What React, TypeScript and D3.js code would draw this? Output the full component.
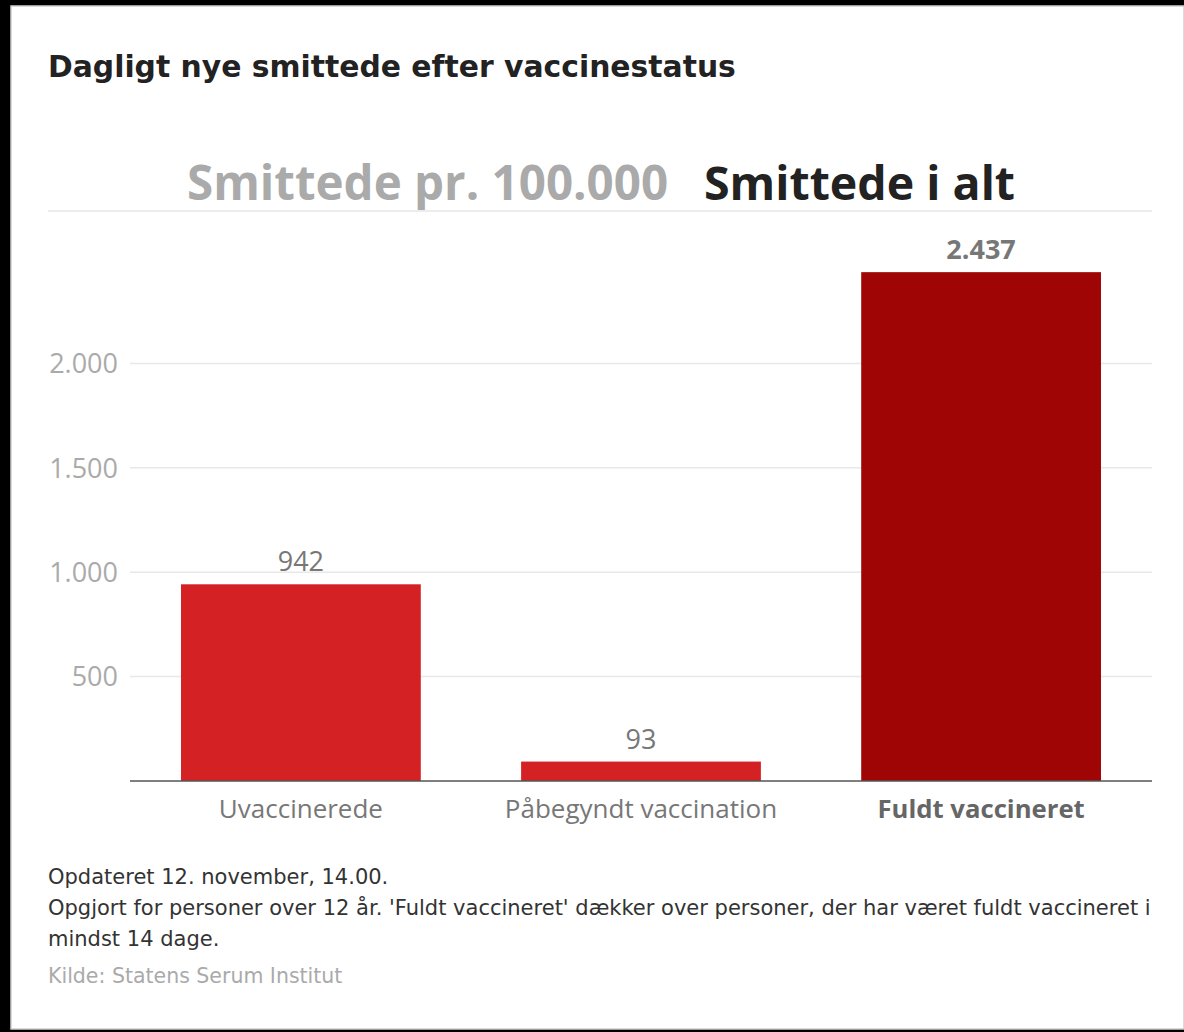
import React from 'react';
import * as d3 from 'd3';

const categories = ['Uvaccinerede', 'Påbegyndt vaccination', 'Fuldt vaccineret'];
const values = [942, 93, 2437];
const highlighted = ['Fuldt vaccineret'];
const yTicks = [500, 1000, 1500, 2000];
const toggleLabels = ['Smittede pr. 100.000', 'Smittede i alt'];
const footerLines = [
  'Opdateret 12. november, 14.00.',
  "Opgjort for personer over 12 år. 'Fuldt vaccineret' dækker over personer, der har været fuldt vaccineret i",
  'mindst 14 dage.',
];
const source = 'Kilde: Statens Serum Institut';

const W = 1184;
const H = 1032;
const font = '"Open Sans", "Noto Sans", sans-serif';
const wide = '"DejaVu Sans", Verdana, sans-serif';

const da = d3.formatLocale({ decimal: ',', thousands: '.', grouping: [3], currency: ['', ' kr.'] });
const fmt = da.format(',d');

export default function App() {
  const plot = { left: 130, right: 1152, top: 212, bottom: 781 };

  const x = d3.scaleBand<string>()
    .domain(categories)
    .range([plot.left, plot.right])
    .paddingInner(0.295)
    .paddingOuter(0.15);

  const y = d3.scaleLinear()
    .domain([0, 2500])
    .range([plot.bottom, plot.bottom - 2500 * 0.2088]);

  return (
    <svg width={W} height={H} style={{ position: 'absolute', left: 0, top: 0, display: 'block' }}>
      <rect x={0} y={0} width={W} height={H} fill="#000" />
      <rect x={11} y={6} width={W - 11} height={1023} fill="#fff" stroke="#cfcfcf" strokeWidth={1.5} />

      <text x={48} y={77} fontFamily={wide} fontWeight={700} fontSize={29.8} fill="#222">
        Dagligt nye smittede efter vaccinestatus
      </text>

      {/* toggle */}
      <text x={187} y={200} fontFamily={font} fontWeight={700} fontSize={47.5} fill="#aaaaaa">
        {toggleLabels[0]}
      </text>
      <text x={704} y={200} fontFamily={font} fontWeight={700} fontSize={46.5} fill="#222">
        {toggleLabels[1]}
      </text>
      <line x1={48} x2={plot.right} y1={211} y2={211} stroke="#ececec" strokeWidth={2} />

      {/* grid + y labels */}
      {yTicks.map(t => (
        <g key={t}>
          <line x1={plot.left} x2={plot.right} y1={y(t)} y2={y(t)} stroke="#e8e8e8" strokeWidth={1.5} />
          <text x={118} y={y(t)} dy="0.36em" textAnchor="end" fontFamily={font} fontSize={27} fill="#aaaaaa">
            {fmt(t)}
          </text>
        </g>
      ))}

      {/* bars */}
      {categories.map((c, i) => {
        const hi = highlighted.includes(c);
        const bx = x(c) || 0;
        return (
          <g key={c}>
            <rect
              x={bx}
              y={y(values[i])}
              width={x.bandwidth()}
              height={plot.bottom - y(values[i])}
              fill={hi ? '#a00505' : '#d32124'}
            />
            <text
              x={bx + x.bandwidth() / 2}
              y={y(values[i]) - 13}
              textAnchor="middle"
              fontFamily={font}
              fontWeight={hi ? 700 : 400}
              fontSize={27}
              fill="#777"
            >
              {fmt(values[i])}
            </text>
            <text
              x={bx + x.bandwidth() / 2}
              y={818}
              textAnchor="middle"
              fontFamily={font}
              fontWeight={hi ? 700 : 400}
              fontSize={hi ? 25.7 : 26}
              fill={hi ? '#666' : '#777'}
            >
              {c}
            </text>
          </g>
        );
      })}

      <line x1={plot.left} x2={plot.right} y1={plot.bottom} y2={plot.bottom} stroke="#555" strokeWidth={1.5} />

      {/* footer */}
      {footerLines.map((l, i) => (
        <text key={i} x={48} y={884 + i * 31} fontFamily={wide} fontSize={21} fill="#333">
          {l}
        </text>
      ))}
      <text x={48} y={983} fontFamily={wide} fontSize={20.5} fill="#aaaaaa">
        {source}
      </text>
    </svg>
  );
}
